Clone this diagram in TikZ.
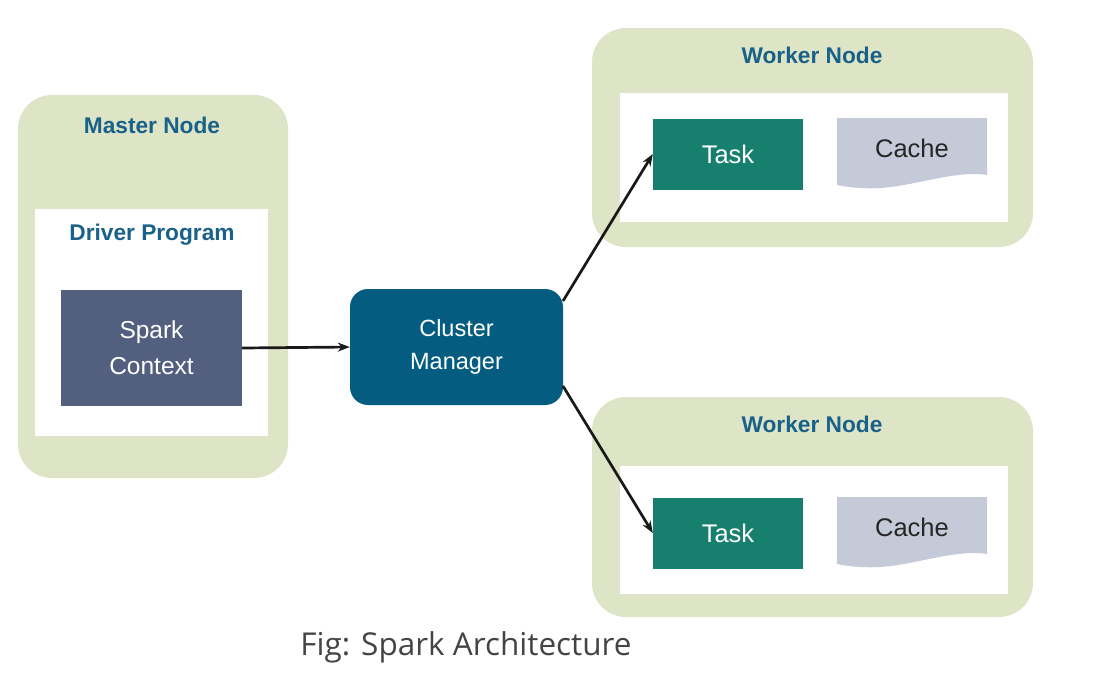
\documentclass[tikz,border=0pt]{standalone}
\usepackage{fontspec}
\setmainfont{Liberation Sans}
\newfontfamily\capfont{Open Sans}
\usetikzlibrary{arrows.meta}
\definecolor{nodegreen}{HTML}{DDE5C6}
\definecolor{titleblue}{HTML}{1A6189}
\definecolor{cmblue}{HTML}{045D80}
\definecolor{sparkgray}{HTML}{525F7E}
\definecolor{taskgreen}{HTML}{177F6E}
\definecolor{cachegray}{HTML}{C4CAD8}
\definecolor{capgray}{HTML}{444444}
\tikzset{
  outer/.style={fill=nodegreen, rounded corners=34pt, draw=none},
  inner/.style={fill=white, draw=none},
  ttl/.style={text=titleblue, font=\fontsize{22.7}{26}\selectfont\bfseries},
  sparkbox/.style={fill=sparkgray, text=white, align=center, font=\fontsize{24.5}{36}\selectfont},
  cmbox/.style={fill=cmblue, rounded corners=18pt, text=white, align=center, font=\fontsize{23.5}{33}\selectfont},
  taskbox/.style={fill=taskgreen, text=white, font=\fontsize{25.5}{28}\selectfont},
  cachetxt/.style={text=black!85, font=\fontsize{25.5}{28}\selectfont},
  conn/.style={-{Stealth[length=12pt,width=9pt]}, line width=2.7pt, black!90},
}
\begin{document}
\begin{tikzpicture}[x=1pt,y=-1pt]
\useasboundingbox (0,0) rectangle (1098,678);
% Master node
\fill[outer] (18,95) rectangle (288,478);
\node[ttl] (mtitle) at (152,125) {Master Node};
\fill[inner] (35,209) rectangle (268,436);
\node[ttl] (dtitle) at (152,235) {Driver Program};
\node[sparkbox, minimum width=181pt, minimum height=116pt] (spark) at (151.5,348) {Spark\\Context};
% Cluster manager
\node[cmbox, minimum width=213pt, minimum height=116pt] (cm) at (456.5,347) {Cluster\\Manager};
% Worker nodes
\foreach \ft/\fb/\wt/\wb/\tt/\n in {28/247/93/222/118/1,397/617/466/594/497/2}{
  \fill[outer] (592,\ft) rectangle (1033,\fb);
  \node[ttl] (wtitle\n) at (812,\ft+27) {Worker Node};
  \fill[inner] (620,\wt) rectangle (1008,\wb);
  \node[taskbox, minimum width=150pt, minimum height=71pt] (task\n) at (728,\tt+36) {Task};
  \fill[cachegray] (837,\tt) -- (987,\tt) -- (987,\tt+57)
     .. controls (955,\tt+52) and (915,\tt+68) .. (880,\tt+70)
     .. controls (860,\tt+71) and (848,\tt+69) .. (837,\tt+67) -- cycle;
  \node[cachetxt] (cache\n) at (912,\tt+30) {Cache};
}
% connectors
\coordinate (cmtop) at (563,301);
\coordinate (cmbot) at (563,386);
\draw[conn] (spark.east) -- (cm.west);
\draw[conn] (cmtop) -- (task1.west);
\draw[conn] (cmbot) -- (task2.west);
% caption
\node[text=capgray, font=\capfont\fontsize{31.5}{36}\selectfont] (cap) at (466,647) {Fig: Spark Architecture};
\end{tikzpicture}
\end{document}
